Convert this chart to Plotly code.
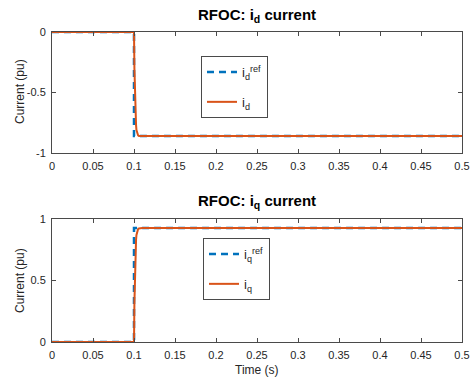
import plotly.graph_objects as go

# Reference signals (step at t = 0.1 s)
t_ref = [0.0, 0.1, 0.1, 0.5]
id_ref = [0.0, 0.0, -0.86, -0.86]
iq_ref = [0.0, 0.0, 0.926, 0.926]

# Measured currents (fast first-order response)
t_meas = [0.0, 0.1, 0.1005, 0.101, 0.1015, 0.102, 0.1025, 0.103, 0.1035, 0.104, 0.105, 0.106, 0.108, 0.11, 0.5]
id_meas = [0.0, 0.0, -0.30, -0.50, -0.63, -0.72, -0.77, -0.81, -0.83, -0.845, -0.855, -0.859, -0.86, -0.86, -0.86]
iq_meas = [0.0, 0.0, 0.32, 0.54, 0.68, 0.77, 0.83, 0.87, 0.89, 0.905, 0.918, 0.923, 0.926, 0.926, 0.926]

x_ticks = [0, 0.05, 0.1, 0.15, 0.2, 0.25, 0.3, 0.35, 0.4, 0.45, 0.5]
x_tick_text = ["0", "0.05", "0.1", "0.15", "0.2", "0.25", "0.3", "0.35", "0.4", "0.45", "0.5"]

BLUE = "#0072BD"
ORANGE = "#D95319"
AX = "#4a4a4a"
FONT = "Liberation Sans, Arial, sans-serif"

fig = go.Figure()
fig.add_trace(go.Scatter(x=t_ref, y=id_ref, mode="lines", name="i<sub>d</sub><sup>ref</sup>", legendgroup="a",
                         line=dict(color=BLUE, width=2.5, dash="7px,5px"), xaxis="x", yaxis="y", legend="legend"))
fig.add_trace(go.Scatter(x=t_meas, y=id_meas, mode="lines", name="i<sub>d</sub>", legendgroup="b",
                         line=dict(color=ORANGE, width=2), xaxis="x", yaxis="y", legend="legend"))
fig.add_trace(go.Scatter(x=t_ref, y=iq_ref, mode="lines", name="i<sub>q</sub><sup>ref</sup>", legendgroup="c",
                         line=dict(color=BLUE, width=2.5, dash="7px,5px"), xaxis="x2", yaxis="y2", legend="legend2"))
fig.add_trace(go.Scatter(x=t_meas, y=iq_meas, mode="lines", name="i<sub>q</sub>", legendgroup="d",
                         line=dict(color=ORANGE, width=2), xaxis="x2", yaxis="y2", legend="legend2"))

W, H = 474, 383
x0, x1 = 52 / W, 462 / W
top_dom = [(H - 153) / H, (H - 32) / H]
bot_dom = [(H - 342) / H, (H - 219) / H]

axcommon = dict(showgrid=False, zeroline=False, showline=True, linecolor=AX, linewidth=1,
                mirror="ticks", ticks="inside", ticklen=4, tickcolor=AX, automargin=False,
                tickfont=dict(size=11, color="#262626", family=FONT))

ylab = dict(text="Current (pu)", xref="paper", yref="paper", x=20 / W, xanchor="center", yanchor="middle",
            textangle=-90, showarrow=False, font=dict(size=12, family=FONT, color="#262626"))

fig.update_layout(
    width=W, height=H, margin=dict(l=0, r=0, t=0, b=0),
    paper_bgcolor="white", plot_bgcolor="white",
    font=dict(family=FONT, color="#262626"),
    xaxis=dict(domain=[x0, x1], range=[0, 0.5], anchor="y", tickvals=x_ticks, ticktext=x_tick_text,
               ticklabelstandoff=3, **axcommon),
    yaxis=dict(domain=top_dom, range=[-1, 0], anchor="x", tickvals=[-1, -0.5, 0], ticktext=["-1", "-0.5", "0"],
               ticklabelstandoff=3, **axcommon),
    xaxis2=dict(domain=[x0, x1], range=[0, 0.5], anchor="y2", tickvals=x_ticks, ticktext=x_tick_text,
                ticklabelstandoff=3, **axcommon),
    yaxis2=dict(domain=bot_dom, range=[0, 1], anchor="x2", tickvals=[0, 0.5, 1], ticktext=["0", "0.5", "1"],
                ticklabelstandoff=3, **axcommon),
    legend=dict(x=201 / W, y=(H - 56) / H, xanchor="left", yanchor="top", bgcolor="white",
                bordercolor=AX, borderwidth=1, font=dict(size=13, family=FONT), tracegroupgap=10),
    legend2=dict(x=203 / W, y=(H - 238) / H, xanchor="left", yanchor="top", bgcolor="white",
                 bordercolor=AX, borderwidth=1, font=dict(size=13, family=FONT), tracegroupgap=10),
    annotations=[
        dict(text="<b>RFOC: i<sub>d</sub> current</b>", x=(x0 + x1) / 2, y=(H - 4) / H, xref="paper", yref="paper",
             xanchor="center", yanchor="top", showarrow=False, font=dict(size=15, family=FONT, color="black")),
        dict(text="<b>RFOC: i<sub>q</sub> current</b>", x=(x0 + x1) / 2, y=(H - 190) / H, xref="paper", yref="paper",
             xanchor="center", yanchor="top", showarrow=False, font=dict(size=15, family=FONT, color="black")),
        dict(ylab, y=(H - 92) / H),
        dict(ylab, y=(H - 281) / H),
        dict(text="Time (s)", xref="paper", yref="paper", x=(x0 + x1) / 2, y=(H - 370) / H,
             xanchor="center", yanchor="middle", showarrow=False, font=dict(size=12, family=FONT, color="#262626")),
    ],
)

fig.write_html("out.html")
